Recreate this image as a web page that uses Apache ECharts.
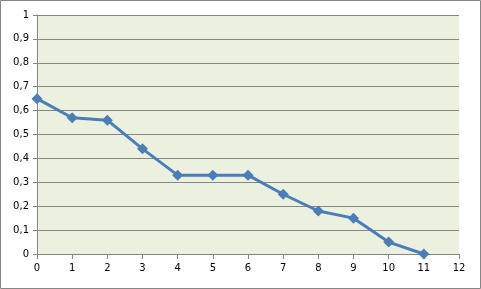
<!DOCTYPE html>
<html><head><meta charset="utf-8">
<script src="https://cdn.jsdelivr.net/npm/echarts@6/dist/echarts.min.js"></script>
<style>html,body{margin:0;padding:0;background:#fff}#c{width:481px;height:289px}</style>
</head><body><div id="c"></div>
<script>
const xValues = [0,1,2,3,4,5,6,7,8,9,10,11];
const yValues = [0.65,0.57,0.56,0.44,0.33,0.33,0.33,0.25,0.18,0.15,0.05,0];
const chart = echarts.init(document.getElementById('c'), null, {renderer:'canvas'});
const lab = {color:'#000', fontFamily:'DejaVu Sans, Verdana, sans-serif', fontSize:10};
chart.setOption({
  animation:false,
  graphic:[{type:'rect',shape:{x:0.5,y:0.5,width:480,height:288},style:{fill:'none',stroke:'#868686',lineWidth:1},silent:true}],
  grid:{left:37,top:15,right:22,bottom:35,show:true,backgroundColor:'#EBF1DE',borderWidth:0},
  xAxis:{type:'value',min:0,max:12,interval:1,
    axisLine:{show:true,onZero:false,lineStyle:{color:'#868686',width:1}},
    axisTick:{show:true,length:5,lineStyle:{color:'#868686'}},
    splitLine:{show:false},
    axisLabel:{...lab,margin:9}},
  yAxis:{type:'value',min:0,max:1,interval:0.1,
    axisLine:{show:true,lineStyle:{color:'#868686',width:1}},
    axisTick:{show:true,length:4,lineStyle:{color:'#868686'}},
    splitLine:{show:true,lineStyle:{color:'#868686',width:1}},
    axisLabel:{...lab,margin:8,formatter:v=>String(Math.round(v*10)/10).replace('.',',')}},
  series:[{type:'line',data:xValues.map((x,i)=>[x,yValues[i]]),
    lineStyle:{color:'#4A7EBB',width:3},
    itemStyle:{color:'#4A7EBB'},
    symbol:'diamond',symbolSize:11,showSymbol:true}]
});
</script></body></html>
